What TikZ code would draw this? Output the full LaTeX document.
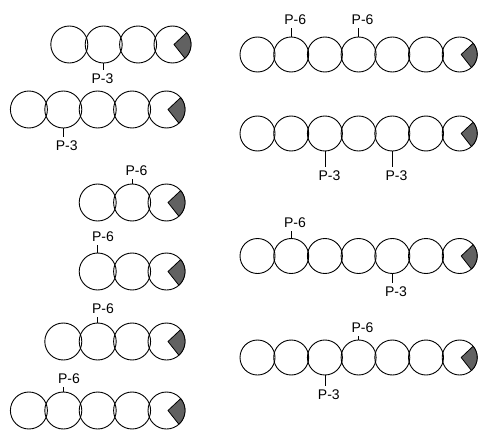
\documentclass[tikz,border=0pt]{standalone}
\usepackage{fontspec}
\setmainfont{Liberation Sans}
\begin{document}
\begin{tikzpicture}[x=1pt,y=1pt,
  beadL/.style={circle,draw=black,line width=0.9pt,minimum size=37pt,inner sep=0pt},
  beadR/.style={circle,draw=black,line width=0.9pt,minimum size=35pt,inner sep=0pt},
  lbl/.style={inner sep=0pt,outer sep=3.5pt,text height=10pt,text depth=0pt,font=\fontsize{14}{14}\selectfont},
  tick/.style={line width=0.8pt},
  wedge/.style={fill=black!62,draw=black,line width=0.8pt,line join=round}]
\useasboundingbox (0,0) rectangle (478,429);
% ---------- left column ----------
\foreach \i in {1,...,4} \node[beadL] (a\i) at ({69.3+(\i-1)*34.4},384.5) {};
\foreach \i in {1,...,5} \node[beadL] (b\i) at ({28.9+(\i-1)*34.4},319.5) {};
\foreach \i in {1,...,3} \node[beadL] (c\i) at ({97.7+(\i-1)*34.4},226.5) {};
\foreach \i in {1,...,3} \node[beadL] (d\i) at ({97.7+(\i-1)*34.4},157.5) {};
\foreach \i in {1,...,4} \node[beadL] (e\i) at ({63.3+(\i-1)*34.4},87.5) {};
\foreach \i in {1,...,5} \node[beadL] (f\i) at ({28.9+(\i-1)*34.4},18.5) {};
% ---------- right column ----------
\foreach \i in {1,...,7} \node[beadR] (g\i) at ({257.5+(\i-1)*33.7},374.5) {};
\foreach \i in {1,...,7} \node[beadR] (h\i) at ({257.5+(\i-1)*33.7},295.5) {};
\foreach \i in {1,...,7} \node[beadR] (k\i) at ({257.5+(\i-1)*33.7},173) {};
\foreach \i in {1,...,7} \node[beadR] (m\i) at ({257.5+(\i-1)*33.7},71.5) {};
% ---------- wedges ----------
\foreach \n in {a4,b5,c3,d3,e4,f5}
  \filldraw[wedge] ([xshift=1.5pt]\n.center) -- ([shift={(-48:18.5pt)}]\n.center)
    arc[start angle=-48,end angle=40,radius=18.5pt] -- cycle;
\foreach \n in {g7,h7,k7,m7}
  \filldraw[wedge] ([xshift=1.5pt]\n.center) -- ([shift={(-48:17.5pt)}]\n.center)
    arc[start angle=-48,end angle=40,radius=17.5pt] -- cycle;
% ---------- labels ----------
\node[lbl] (la) at (102.4,350.5) {P-3};
\draw[tick] (a2.south) -- (a2.south |- la.north);
\node[lbl] (lb) at (66.8,283.5) {P-3};
\draw[tick] (b2.south) -- (b2.south |- lb.north);
\node[lbl] (lc) at (136.5,259) {P-6};
\draw[tick] (c2.north) -- (c2.north |- lc.south);
\node[lbl] (ld) at (103,193) {P-6};
\draw[tick] (d1.north) -- (d1.north |- ld.south);
\node[lbl] (le) at (103,120.5) {P-6};
\draw[tick] (e2.north) -- (e2.north |- le.south);
\node[lbl] (lf) at (69,51) {P-6};
\draw[tick] (f2.north) -- (f2.north |- lf.south);
\node[lbl] (lg1) at (295.2,409) {P-6};
\draw[tick] (g2.north) -- (g2.north |- lg1.south);
\node[lbl] (lg2) at (362.6,409) {P-6};
\draw[tick] (g4.north) -- (g4.north |- lg2.south);
\node[lbl] (lh1) at (329.5,254) {P-3};
\draw[tick] (h3.south) -- (h3.south |- lh1.north);
\node[lbl] (lh2) at (396.5,254) {P-3};
\draw[tick] (h5.south) -- (h5.south |- lh2.north);
\node[lbl] (lk1) at (295,206.5) {P-6};
\draw[tick] (k2.north) -- (k2.north |- lk1.south);
\node[lbl] (lk2) at (396,138) {P-3};
\draw[tick] (k5.south) -- (k5.south |- lk2.north);
\node[lbl] (lm1) at (362.5,101.5) {P-6};
\draw[tick] (m4.north) -- (m4.north |- lm1.south);
\node[lbl] (lm2) at (328.8,35) {P-3};
\draw[tick] (m3.south) -- (m3.south |- lm2.north);
\end{tikzpicture}
\end{document}
